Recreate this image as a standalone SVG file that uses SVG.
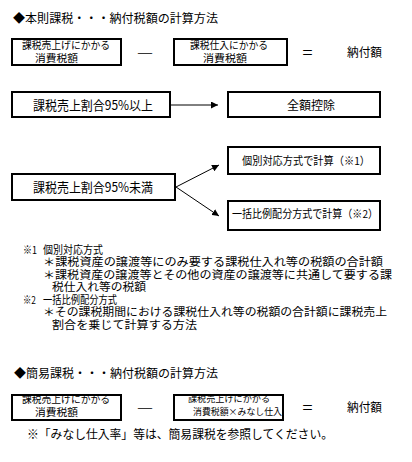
<svg xmlns="http://www.w3.org/2000/svg" width="412" height="462" viewBox="0 0 412 462">
<style>
text{font-family:"Noto Sans CJK JP","Noto Sans CJK SC",sans-serif;fill:#000;}
.box{fill:#fff;stroke:#000;stroke-width:2;}
.t12{font-size:12px;}
.t10{font-size:10.5px;}
.t9{font-size:9px;}
.t13{font-size:13px;}
.t11{font-size:11px;}
.n{font-size:11px;}
.c{text-anchor:middle;}
.conn{stroke:#000;stroke-width:1;fill:none;}
</style>
<defs>
<marker id="ah" viewBox="0 0 10 10" refX="10" refY="5" markerWidth="7" markerHeight="7" markerUnits="userSpaceOnUse" orient="auto">
<path d="M0,0 L10,5 L0,10 z" fill="#000"/>
</marker>
</defs>
<rect width="412" height="462" fill="#fff"/>

<g id="title1"><text class="t12" x="13" y="22.6" textLength="205" lengthAdjust="spacingAndGlyphs">◆本則課税・・・納付税額の計算方法</text></g>

<g id="box1">
<rect class="box" x="12" y="39" width="109" height="26"/>
<text class="t10" x="22" y="49" textLength="88" lengthAdjust="spacingAndGlyphs">課税売上げにかかる</text>
<text class="t10" x="35" y="62" textLength="43" lengthAdjust="spacingAndGlyphs">消費税額</text>
</g>
<g id="minus1"><text class="t12 c" x="145" y="56.6" textLength="16" lengthAdjust="spacingAndGlyphs">—</text></g>
<g id="box2">
<rect class="box" x="174" y="39" width="113" height="26"/>
<text class="t10" x="190" y="49" textLength="78" lengthAdjust="spacingAndGlyphs">課税仕入にかかる</text>
<text class="t10" x="203" y="62" textLength="44" lengthAdjust="spacingAndGlyphs">消費税額</text>
</g>
<g id="eq1"><text class="t13 c" x="307.5" y="57" textLength="12" lengthAdjust="spacingAndGlyphs">＝</text></g>
<g id="result1"><text class="t12" x="347" y="56.6" textLength="35" lengthAdjust="spacingAndGlyphs">納付額</text></g>

<g id="box3">
<rect class="box" x="12" y="92" width="158" height="25"/>
<text class="t13" x="33" y="110" textLength="120" lengthAdjust="spacingAndGlyphs">課税売上割合95%以上</text>
</g>
<g id="box4">
<rect class="box" x="228" y="92" width="152" height="25"/>
<text class="t12" x="287" y="109.6" textLength="48" lengthAdjust="spacingAndGlyphs">全額控除</text>
</g>

<g id="box5">
<rect class="box" x="12" y="174" width="163" height="26"/>
<text class="t13" x="33" y="192" textLength="120" lengthAdjust="spacingAndGlyphs">課税売上割合95%未満</text>
</g>
<g id="box6">
<rect class="box" x="228" y="147" width="152" height="27"/>
<text class="t11" x="242" y="165" textLength="128" lengthAdjust="spacingAndGlyphs">個別対応方式で計算（※1）</text>
</g>
<g id="box7">
<rect class="box" x="228" y="201" width="152" height="29"/>
<text class="t11" x="232" y="218" textLength="146" lengthAdjust="spacingAndGlyphs">一括比例配分方式で計算（※2）</text>
</g>

<g id="connectors">
<line class="conn" x1="171" y1="105" x2="218" y2="105" marker-end="url(#ah)"/>
<line class="conn" x1="176" y1="187" x2="219" y2="165" marker-end="url(#ah)"/>
<line class="conn" x1="176" y1="187" x2="219" y2="216" marker-end="url(#ah)"/>
</g>

<g id="notes">
<text class="n" x="23" y="254.2" textLength="14" lengthAdjust="spacingAndGlyphs">※1</text>
<text class="n" x="43" y="254.2" textLength="60" lengthAdjust="spacingAndGlyphs">個別対応方式</text>
<text class="n" x="43" y="266.2" textLength="340" lengthAdjust="spacingAndGlyphs">＊課税資産の譲渡等にのみ要する課税仕入れ等の税額の合計額</text>
<text class="n" x="43" y="279.2" textLength="349" lengthAdjust="spacingAndGlyphs">＊課税資産の譲渡等とその他の資産の譲渡等に共通して要する課</text>
<text class="n" x="52" y="291.2" textLength="94" lengthAdjust="spacingAndGlyphs">税仕入れ等の税額</text>
<text class="n" x="23" y="304.2" textLength="13" lengthAdjust="spacingAndGlyphs">※2</text>
<text class="n" x="43" y="304.2" textLength="74" lengthAdjust="spacingAndGlyphs">一括比例配分方式</text>
<text class="n" x="43" y="316.2" textLength="344" lengthAdjust="spacingAndGlyphs">＊その課税期間における課税仕入れ等の税額の合計額に課税売上</text>
<text class="n" x="52" y="329.2" textLength="145" lengthAdjust="spacingAndGlyphs">割合を乗じて計算する方法</text>
</g>

<g id="title2"><text class="t12" x="14" y="377.6" textLength="204" lengthAdjust="spacingAndGlyphs">◆簡易課税・・・納付税額の計算方法</text></g>

<g id="box8">
<rect class="box" x="12" y="395" width="109" height="25"/>
<text class="t10" x="22" y="403" textLength="88" lengthAdjust="spacingAndGlyphs">課税売上げにかかる</text>
<text class="t10" x="35" y="416" textLength="43" lengthAdjust="spacingAndGlyphs">消費税額</text>
</g>
<g id="minus2"><text class="t12 c" x="145" y="411.6" textLength="16" lengthAdjust="spacingAndGlyphs">—</text></g>
<g id="box9">
<rect class="box" x="174" y="395" width="109" height="25"/>
<text class="t9" x="188" y="401.5" textLength="82" lengthAdjust="spacingAndGlyphs">課税売上げにかかる</text>
<text class="t9" x="193" y="414.5" textLength="89" lengthAdjust="spacingAndGlyphs">消費税額×みなし仕入</text>
</g>
<g id="eq2"><text class="t13 c" x="307.5" y="412" textLength="12" lengthAdjust="spacingAndGlyphs">＝</text></g>
<g id="result2"><text class="t12" x="347" y="411.6" textLength="35" lengthAdjust="spacingAndGlyphs">納付額</text></g>

<g id="footnote"><text class="t12" x="27" y="438.6" textLength="306" lengthAdjust="spacingAndGlyphs">※「みなし仕入率」等は、簡易課税を参照してください。</text></g>
</svg>
